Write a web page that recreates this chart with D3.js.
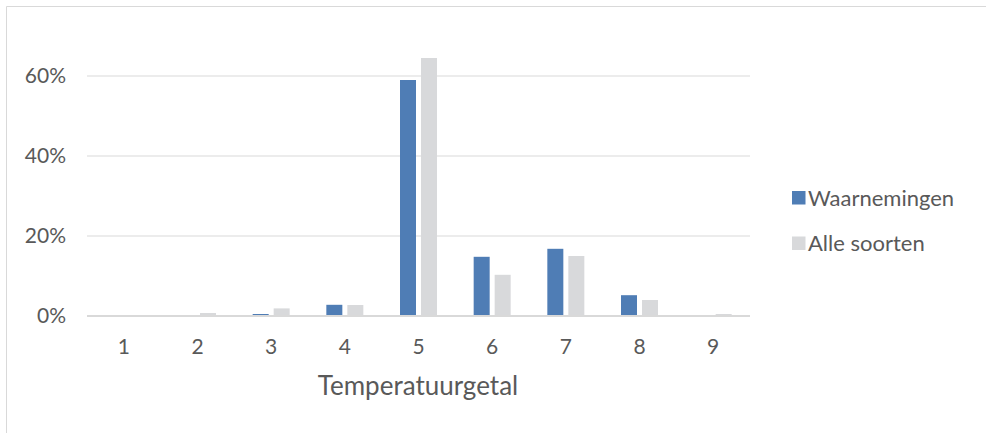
<!DOCTYPE html>
<html><head><meta charset="utf-8">
<script src="https://cdn.jsdelivr.net/npm/d3@7"></script>
<style>body{margin:0;background:#fff}svg{display:block}text{font-family:Lato,"Open Sans",sans-serif;fill:#595959}</style>
</head><body>
<script>
const categories = ["1","2","3","4","5","6","7","8","9"];
const seriesNames = ["Waarnemingen","Alle soorten"];
const waarnemingen = [0, 0, 0.5, 2.8, 59, 14.8, 16.8, 5.2, 0];
const alleSoorten = [0, 0.75, 1.9, 2.75, 64.5, 10.3, 15, 4, 0.5];
const yTicks = [0, 20, 40, 60];
const colors = ["#4f7db5", "#d8d9db"];

const W = 986, H = 433;
const svg = d3.select("body").append("svg").attr("width", W).attr("height", H);
svg.append("path").attr("d", `M6.5,${H} V6.5 H${W}`).attr("fill","none").attr("stroke","#d9d9d9");

const x = d3.scaleBand().domain(categories).range([87, 750]);
const y = d3.scaleLinear().domain([0, 70]).range([316, 36]);

svg.append("g").selectAll("line").data(yTicks.filter(d=>d>0)).join("line")
  .attr("x1", 87).attr("x2", 750).attr("y1", d=>y(d)).attr("y2", d=>y(d))
  .attr("stroke","#d9d9d9").attr("stroke-width",1);

const data = [waarnemingen, alleSoorten];
const bw = 16, gap = 5;
data.forEach((vals, si) => {
  svg.append("g").selectAll("rect").data(vals).join("rect")
    .attr("x", (d,i)=> x(categories[i]) + x.bandwidth()/2 - (bw*2+gap)/2 + si*(bw+gap))
    .attr("width", bw)
    .attr("y", d=>y(d)).attr("height", d=>y(0)-y(d))
    .attr("fill", colors[si]);
});
svg.append("line").attr("x1",87).attr("x2",750).attr("y1",y(0)).attr("y2",y(0))
  .attr("stroke","#d9d9d9").attr("stroke-width",2);

svg.append("g").selectAll("text").data(yTicks).join("text")
  .attr("x", 66).attr("y", d=>y(d)+7).attr("text-anchor","end")
  .style("font-size","21px").text(d=>d+"%");

svg.append("g").selectAll("text").data(categories).join("text")
  .attr("x", d=>x(d)+x.bandwidth()/2).attr("y", 354).attr("text-anchor","middle")
  .style("font-size","21px").text(d=>d);

svg.append("text").attr("x", 418).attr("y", 395).attr("text-anchor","middle")
  .style("font-size","26px").text("Temperatuurgetal");

const lg = svg.append("g").selectAll("g").data(seriesNames).join("g")
  .attr("transform",(d,i)=>`translate(792,${191+i*45.5})`);
lg.append("rect").attr("width",13.5).attr("height",13.5).attr("fill",(d,i)=>colors[i]);
lg.append("text").attr("x",16).attr("y",14.5).style("font-size","22px").text(d=>d);
</script>
</body></html>
